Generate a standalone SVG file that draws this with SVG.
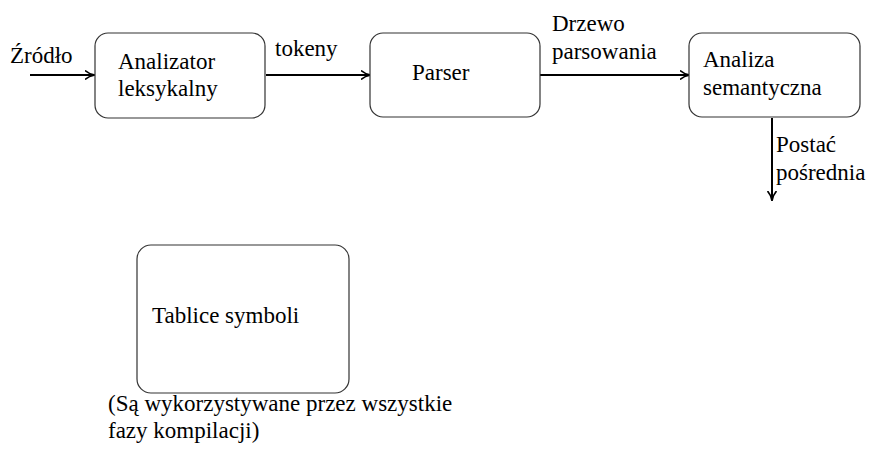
<svg xmlns="http://www.w3.org/2000/svg" width="871" height="468" viewBox="0 0 871 468">
  <style>
    .box { fill: #ffffff; stroke: #333333; stroke-width: 1.2; }
    .lbl { font-family: "Liberation Serif", "Times New Roman", serif; font-size: 23px; fill: #000000; }
    .edge { fill: none; stroke: #000000; stroke-width: 2; marker-end: url(#arrow); }
  </style>
  <defs>
    <marker id="arrow" viewBox="0 0 10 10" refX="9" refY="5" markerWidth="5" markerHeight="5" orient="auto" markerUnits="strokeWidth">
      <path d="M0,0.5 Q4,4.2 10,5 Q4,5.8 0,9.5" fill="none" stroke="#000000" stroke-width="1.6"/>
    </marker>
  </defs>

  <g id="connectors">
    <line class="edge" x1="30" y1="75" x2="94" y2="75"/>
    <line class="edge" x1="266" y1="75" x2="370" y2="75"/>
    <line class="edge" x1="540" y1="75" x2="689" y2="75"/>
    <line class="edge" x1="772" y1="118" x2="772" y2="200"/>
    <text class="lbl" x="10" y="63">Źródło</text>
    <text class="lbl" x="275" y="56">tokeny</text>
    <text class="lbl" x="552" y="31">Drzewo</text>
    <text class="lbl" x="552" y="59">parsowania</text>
    <text class="lbl" x="776" y="152">Postać</text>
    <text class="lbl" x="776" y="180">pośrednia</text>
  </g>

  <g id="lexer">
    <rect class="box" x="95" y="33" width="170" height="85" rx="13"/>
    <text class="lbl" x="118" y="69">Analizator</text>
    <text class="lbl" x="118" y="96">leksykalny</text>
  </g>

  <g id="parser">
    <rect class="box" x="370" y="33" width="170" height="84" rx="13"/>
    <text class="lbl" x="412" y="80">Parser</text>
  </g>

  <g id="semantic">
    <rect class="box" x="689" y="33" width="171" height="84" rx="13"/>
    <text class="lbl" x="703" y="67">Analiza</text>
    <text class="lbl" x="703" y="95">semantyczna</text>
  </g>

  <g id="symbols">
    <rect class="box" x="137" y="245" width="212" height="148" rx="14"/>
    <text class="lbl" x="152" y="323">Tablice symboli</text>
  </g>

  <g id="note">
    <text class="lbl" x="108" y="411">(Są wykorzystywane przez wszystkie</text>
    <text class="lbl" x="108" y="438">fazy kompilacji)</text>
  </g>
</svg>
